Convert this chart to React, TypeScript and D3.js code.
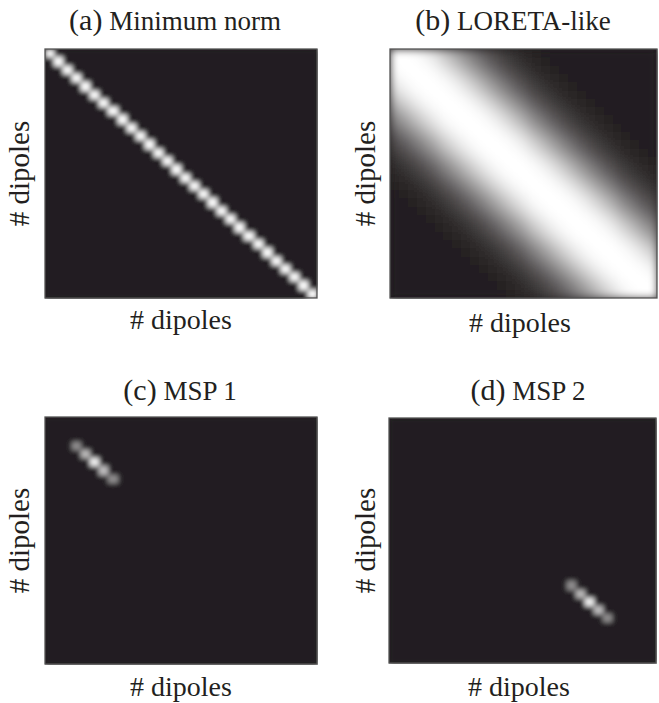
import React from "react";
import * as d3 from "d3";

// ---------- data ----------
const dipoles: number[] = d3.range(30); // dipole indices 0..29

// (a) minimum norm: value on the diagonal, per dipole
const minNormDiagonal: number[] = [
  1, 1, 1, 1, 1, 1, 1, 1, 1, 1, 1, 1, 1, 1, 1,
  1, 1, 1, 1, 1, 1, 1, 1, 1, 1, 1, 1, 1, 1, 1,
];

// (b) LORETA-like: value as a function of |i - j|
const loretaProfile: number[] = [
  1, 1, 0.98, 0.94, 0.87, 0.78, 0.67, 0.56, 0.45, 0.35,
  0.26, 0.19, 0.13, 0.08, 0.05, 0.03, 0.01, 0, 0, 0,
  0, 0, 0, 0, 0, 0, 0, 0, 0, 0,
];

// (c) MSP 1: active diagonal dipoles and their values
const msp1Indices: number[] = [3, 4, 5, 6, 7];
const msp1Values: number[] = [0.5, 0.7, 0.95, 0.72, 0.5];

// (d) MSP 2
const msp2Indices: number[] = [20, 21, 22, 23, 24];
const msp2Values: number[] = [0.5, 0.7, 0.95, 0.72, 0.5];

const panelTags: string[] = ["(a)", "(b)", "(c)", "(d)"];
const panelNames: string[] = ["Minimum norm", "LORETA-like", "MSP 1", "MSP 2"];
const axisLabel = "# dipoles";

// ---------- build matrices ----------
type Cell = { i: number; j: number; v: number };

function diagMatrix(idx: number[], vals: number[]): Cell[] {
  const cells: Cell[] = [];
  for (const i of dipoles)
    for (const j of dipoles) {
      const k = idx.indexOf(i);
      cells.push({ i, j, v: i === j && k >= 0 ? vals[k] : 0 });
    }
  return cells;
}

const matA = diagMatrix(dipoles, minNormDiagonal);
const matB: Cell[] = [];
for (const i of dipoles)
  for (const j of dipoles) matB.push({ i, j, v: loretaProfile[Math.abs(i - j)] });
const matC = diagMatrix(msp1Indices, msp1Values);
const matD = diagMatrix(msp2Indices, msp2Values);
const matrices = [matA, matB, matC, matD];

// ---------- layout ----------
const W = 659;
const H = 703;
const panels = [
  { x0: 45, x1: 317, y0: 49, y1: 298, blur: 2.8, titleX: 175, titleY: 30, labX: 181, labY: 329, ylabX: 29 },
  { x0: 390, x1: 657, y0: 49, y1: 298, blur: 4.5, titleX: 513, titleY: 30, labX: 520, labY: 332, ylabX: 375 },
  { x0: 45, x1: 317, y0: 417, y1: 664, blur: 2.9, titleX: 180, titleY: 400, labX: 181, labY: 696, ylabX: 29 },
  { x0: 389, x1: 656, y0: 418, y1: 663, blur: 2.9, titleX: 528, titleY: 400, labX: 519, labY: 696, ylabX: 375 },
];

const color = d3.scaleLinear<string>().domain([0, 1]).range(["#231f20", "#ffffff"]).clamp(true);
const FONT = "Liberation Serif, Times New Roman, Times, serif";
const INK = "#231f20";

export default function App() {
  return (
    <svg
      width={W}
      height={H}
      viewBox={`0 0 ${W} ${H}`}
      style={{ position: "absolute", left: 0, top: 0, background: "#fff" }}
    >
      <defs>
        {panels.map((p, k) => (
          <filter
            key={k}
            id={`blur${k}`}
            filterUnits="objectBoundingBox"
            x="0"
            y="0"
            width="1"
            height="1"
          >
            <feGaussianBlur stdDeviation={p.blur} edgeMode="duplicate" />
          </filter>
        ))}
      </defs>
      {panels.map((p, k) => {
        const xs = d3.scaleBand<number>().domain(dipoles).range([p.x0, p.x1]);
        const ys = d3.scaleBand<number>().domain(dipoles).range([p.y0, p.y1]);
        const cy = (p.y0 + p.y1) / 2;
        return (
          <g key={k}>
            <rect x={p.x0} y={p.y0} width={p.x1 - p.x0} height={p.y1 - p.y0} fill={INK} />
            <g filter={`url(#blur${k})`}>
              {matrices[k].map((c, n) => (
                <rect
                  key={n}
                  x={xs(c.j)!}
                  y={ys(c.i)!}
                  width={xs.bandwidth() + 0.5}
                  height={ys.bandwidth() + 0.5}
                  fill={color(c.v)}
                  shapeRendering="crispEdges"
                />
              ))}
            </g>
            <rect
              x={p.x0}
              y={p.y0}
              width={p.x1 - p.x0}
              height={p.y1 - p.y0}
              fill="none"
              stroke="#555"
              strokeWidth={1.3}
            />
            <text x={p.titleX} y={p.titleY} textAnchor="middle" style={{ fontFamily: FONT }} fill={INK}>
              <tspan fontSize={30}>{panelTags[k]}</tspan>
              <tspan fontSize={27}>{" " + panelNames[k]}</tspan>
            </text>
            <text x={p.labX} y={p.labY} textAnchor="middle" style={{ fontFamily: FONT }} fontSize={28} fill={INK}>
              {axisLabel}
            </text>
            <text
              transform={`translate(${p.ylabX},${cy}) rotate(-90)`}
              textAnchor="middle"
              style={{ fontFamily: FONT }}
              fontSize={29}
              fill={INK}
            >
              {axisLabel}
            </text>
          </g>
        );
      })}
    </svg>
  );
}
